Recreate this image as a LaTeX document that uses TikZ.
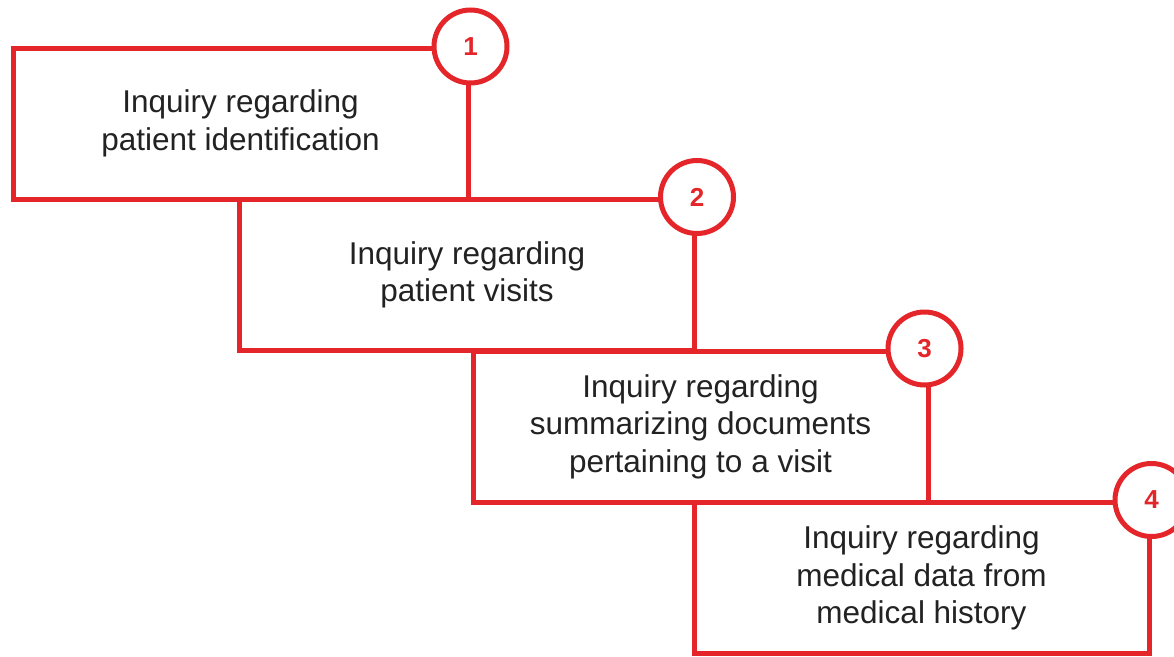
\documentclass[tikz,border=0pt]{standalone}
\usepackage{fontspec}
\setmainfont{Liberation Sans}
\definecolor{stepred}{RGB}{228,38,42}
\definecolor{textgray}{RGB}{34,34,34}
\begin{document}
\begin{tikzpicture}[x=1pt,y=-1pt,
  stepbox/.style={draw=stepred, line width=5pt, rectangle, inner sep=0pt,
    minimum width=455pt, minimum height=151pt, align=center, text=textgray,
    font=\fontsize{31.5}{37.5}\selectfont},
  numcirc/.style={draw=stepred, fill=white, line width=5pt, circle, inner sep=0pt,
    minimum size=73pt, text=stepred, font=\fontsize{26}{26}\selectfont\bfseries}]
  \fill[white] (0,0) rectangle (1174,656);
  \clip (0,0) rectangle (1174,656);
  % the four steps, each shifted down and to the right
  \node[stepbox] (b1) at (240.5,123.5) {Inquiry regarding\\patient identification};
  \node[stepbox] (b2) at (467,275) {Inquiry regarding\\patient visits};
  \node[stepbox] (b3) at (700.5,426.5) {Inquiry regarding\\summarizing documents\\pertaining to a visit};
  \node[stepbox] (b4) at (921.5,578) {Inquiry regarding\\medical data from\\medical history};
  % numbered markers on the top right corners
  \node[numcirc] (c1) at ([yshift=-1pt]b1.north east) {1};
  \node[numcirc] (c2) at (b2.north east) {2};
  \node[numcirc] (c3) at ([xshift=-6pt]b3.north east) {3};
  \node[numcirc] (c4) at (b4.north east) {4};
\end{tikzpicture}
\end{document}
